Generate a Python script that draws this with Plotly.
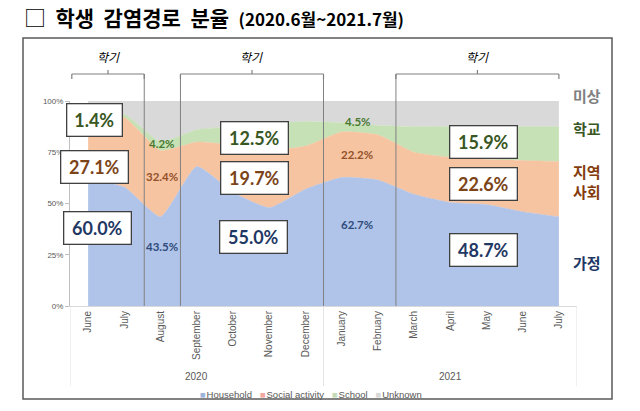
import plotly.graph_objects as go

# ---------------- data ----------------
months = ["June", "July", "August", "September", "October", "November", "December",
          "January", "February", "March", "April", "May", "June", "July"]
years = ["2020", "2021"]
year_span = [(0, 6), (7, 13)]
household = [62, 58, 43.5, 68, 55.5, 48, 57, 62.7, 61.5, 54.5, 50.5, 49.5, 46, 43.5]
social = [30, 34, 32.4, 12, 23, 28, 21, 22.2, 22, 20.5, 22, 22, 25, 27]
school = [1, 1.5, 4.2, 6, 9, 13, 12, 4.5, 4.6, 12.5, 15, 16, 16.5, 17]
unknown = [round(100 - h - s - c, 1) for h, s, c in zip(household, social, school)]
y_ticks = [0, 25, 50, 75, 100]
y_ticktext = ["0%", "25%", "50%", "75%", "100%"]

series_names = ["Household", "Social activity", "School", "Unknown"]
series_colors = ["#afc4e8", "#f7c4a2", "#c6e1b5", "#d9d9d9"]
legend_colors = ["#9fb6dc", "#f2a7a0", "#c6dcb8", "#d9d9d9"]

# semester summary boxes: (x index, y %, text, colour, width)
box_labels = [
    (0.17, 90.7, "1.4%", "#385723", 48),
    (0.19, 67.8, "27.1%", "#7b4419", 60),
    (0.25, 38.0, "60.0%", "#1f3864", 60),
    (4.59, 82.0, "12.5%", "#385723", 60),
    (4.59, 62.4, "19.7%", "#7b4419", 60),
    (4.56, 33.7, "55.0%", "#1f3864", 60),
    (10.91, 80.0, "15.9%", "#385723", 60),
    (10.91, 59.5, "22.6%", "#7b4419", 60),
    (10.91, 27.3, "48.7%", "#1f3864", 60),
]
plain_labels = [
    (2.04, 79.5, "4.2%", "#4a7a30"),
    (2.04, 63.4, "32.4%", "#94512a"),
    (2.04, 28.8, "43.5%", "#2f4a7a"),
    (7.46, 89.8, "4.5%", "#4a7a30"),
    (7.43, 73.7, "22.2%", "#94512a"),
    (7.43, 40.0, "62.7%", "#2f4a7a"),
]
# semester brackets: (left, right) in category coordinates, long vertical lines
brackets = [(-0.45, 1.55), (2.55, 6.5), (8.5, 13.0)]
long_lines = [1.55, 2.55, 6.5, 8.5]
side_labels = [("미상", 96, "#808080"), ("학교", 128, "#385723"),
               ("지역<br>사회", 181, "#843c0c"), ("가정", 262, "#1f3864")]

W, H = 640, 411
def px(x): return x / W
def py(y): return 1 - y / H

x = list(range(len(months)))
fig = go.Figure()
for name, vals, col in zip(series_names, [household, social, school, unknown], series_colors):
    fig.add_trace(go.Scatter(
        x=x, y=vals, name=name, stackgroup="one", mode="lines",
        line=dict(width=0.5, color=col, shape="spline", smoothing=0.5),
        fillcolor=col, hoverinfo="skip", showlegend=False))

ann = []
KR = "Noto Sans CJK KR"
for xi, yi, t, c, w in box_labels:
    ann.append(dict(x=xi, y=yi, xref="x", yref="y", text=f"<b>{t}</b>", showarrow=False,
                    font=dict(family="Lato", size=18, color=c), bgcolor="white",
                    bordercolor="#404040", borderwidth=1.3, borderpad=3,
                    width=w, height=25, yanchor="middle"))
for xi, yi, t, c in plain_labels:
    ann.append(dict(x=xi, y=yi, xref="x", yref="y", text=f"<b>{t}</b>", showarrow=False,
                    font=dict(family="Lato", size=11.5, color=c), yanchor="middle"))

# title
ann.append(dict(x=px(22), y=py(16), xref="paper", yref="paper", xanchor="left", yanchor="middle",
                showarrow=False,
                text="<span style='font-size:22px'>□</span>  <b>학생  감염경로  분율</b>  "
                     "<b><span style='font-size:17px'>(2020.6월~2021.7월)</span></b>",
                font=dict(family=KR, size=21, color="black")))
# side labels
for t, yy, c in side_labels:
    ann.append(dict(x=px(587), y=py(yy), xref="paper", yref="paper", text=f"<b>{t}</b>",
                    showarrow=False, font=dict(family=KR, size=15, color=c),
                    xanchor="center", yanchor="middle"))
# year labels
for yl, (a, b) in zip(years, year_span):
    ann.append(dict(x=(a + b) / 2, y=py(376), xref="x", yref="paper", text=yl, showarrow=False,
                    font=dict(family="Liberation Sans", size=10, color="#595959"),
                    yanchor="middle"))
# legend (custom, compact like the reference)
leg_text = "   ".join(f"<span style='color:{c}'>■</span><span style='font-size:3px'> </span>{n}"
                       for n, c in zip(series_names, legend_colors))
ann.append(dict(x=px(311), y=py(394), xref="paper", yref="paper", text=leg_text, showarrow=False,
                font=dict(family="Liberation Sans", size=9.5, color="#595959"),
                xanchor="center", yanchor="middle"))

shapes = []
line_c = "#808080"
for a, b in brackets:
    mid = (a + b) / 2
    shapes.append(dict(type="line", xref="x", yref="paper", x0=a, x1=b, y0=py(74), y1=py(74),
                       line=dict(color=line_c, width=1.2)))
    for e in (a, b):
        shapes.append(dict(type="line", xref="x", yref="paper", x0=e, x1=e, y0=py(74), y1=py(79),
                           line=dict(color=line_c, width=1.2)))
    shapes.append(dict(type="line", xref="x", yref="paper", x0=mid, x1=mid, y0=py(74), y1=py(70),
                       line=dict(color=line_c, width=1.2)))
    ann.append(dict(x=mid, y=py(56), xref="x", yref="paper", text="<i>학기</i>", showarrow=False,
                    font=dict(family=KR, size=12, color="black"), yanchor="middle"))
for lx in long_lines:
    shapes.append(dict(type="line", xref="x", yref="paper", x0=lx, x1=lx, y0=py(306), y1=py(74),
                       line=dict(color=line_c, width=1)))
# category axis separators
for lx in (-0.5, 6.5, 13.5):
    shapes.append(dict(type="line", xref="x", yref="paper", x0=lx, x1=lx, y0=py(306), y1=py(386),
                       line=dict(color="#e3e3e3", width=1)))
# outer border
shapes.append(dict(type="rect", xref="paper", yref="paper", x0=px(23), x1=px(612),
                   y0=py(399), y1=py(38), line=dict(color="#595959", width=1.5)))

fig.update_layout(
    width=W, height=H, margin=dict(l=0, r=0, t=0, b=0, pad=0, autoexpand=False),
    plot_bgcolor="white", paper_bgcolor="white",
    annotations=ann, shapes=shapes,
    showlegend=False,
    xaxis=dict(domain=[px(70), px(577)], range=[-0.5, 13.5], tickmode="array", tickvals=x,
               ticktext=months, tickangle=-90, showgrid=False, zeroline=False, automargin=False,
               showline=True, linecolor="#d9d9d9", ticks="",
               tickfont=dict(family="Liberation Sans", size=10, color="#595959")),
    yaxis=dict(domain=[py(306), py(101)], range=[0, 100], tickmode="array", tickvals=y_ticks,
               ticktext=y_ticktext, showgrid=False, zeroline=False, showline=True, automargin=False,
               linecolor="#bfbfbf", ticks="outside", ticklen=4, tickcolor="#bfbfbf",
               tickfont=dict(family="Liberation Sans", size=8, color="#595959")),
)
fig.write_html("out.html", config={"displayModeBar": False},
               post_script="document.body.style.margin='0';")
